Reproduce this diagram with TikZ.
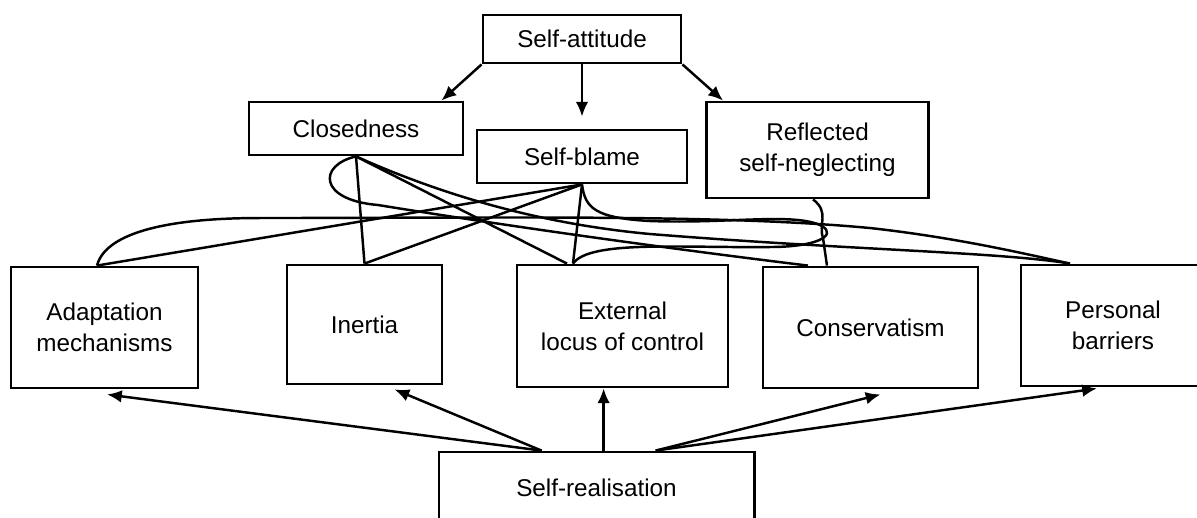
\documentclass[tikz,border=0pt]{standalone}
\usepackage{fontspec}
\setmainfont{Liberation Sans}
\usetikzlibrary{arrows.meta, calc}
\tikzset{>={Latex[length=4.2pt, width=3.6pt]}}
\tikzset{box/.style = {draw, line width = 0.8pt, inner sep = 0pt, align = center, font = \fontsize{6.9}{8.9}\selectfont}}

\begin{document}
\begin{tikzpicture}[x = 0.01cm, y = -0.01cm, line width = 0.7pt]
\useasboundingbox (0,0) rectangle (1197,517);
\clip (0,0) rectangle (1197,517);

\node[box, minimum width = 1.98cm, minimum height = 0.48cm] (attitude) at (582,39) {Self-attitude};
\node[box, minimum width = 2.14cm, minimum height = 0.53cm] (closed) at (356,128.5) {Closedness};
\node[box, minimum width = 2.10cm, minimum height = 0.53cm] (blame) at (582,156.5) {Self-blame};
\node[box, minimum width = 2.22cm, minimum height = 0.96cm] (reflect) at (817.5,150) {Reflected\\self-neglecting};

\node[box, minimum width = 1.87cm, minimum height = 1.21cm] (adapt) at (104.5,327.5) {Adaptation\\mechanisms};
\node[box, minimum width = 1.55cm, minimum height = 1.19cm] (inertia) at (364.5,324.5) {Inertia};
\node[box, minimum width = 2.11cm, minimum height = 1.22cm] (extern) at (622.5,326) {External\\locus of control};
\node[box, minimum width = 2.15cm, minimum height = 1.21cm] (conserv) at (870.5,327.5) {Conservatism};
\node[box, minimum width = 1.84cm, minimum height = 1.21cm] (barriers) at (1113,325.5) {Personal\\barriers};

\node[box, minimum width = 3.15cm, minimum height = 0.72cm] (realise) at (596.5,488) {Self-realisation};

\draw[->] (attitude.south west) -- ([xshift=-0.23cm]closed.north east);
\draw[->] (attitude.south) -- ([yshift=0.12cm]blame.north);
\draw[->] (attitude.south east) -- ([xshift=0.18cm]reflect.north west);

\coordinate (r1) at ([xshift=1.04cm]realise.north west);
\coordinate (r2) at ([xshift=1.66cm]realise.north west);
\coordinate (r3) at ([xshift=2.18cm]realise.north west);
\draw[->] (r1) -- ([xshift=0.025cm, yshift=-0.05cm]adapt.south);
\draw[->] (r1) -- ([xshift=0.3cm, yshift=-0.04cm]inertia.south);
\draw[->] (r2) -- (r2 |- extern.south);
\draw[->] (r3) -- ([xshift=0.1cm, yshift=-0.05cm]conserv.south);
\draw[->] (r3) -- ([xshift=-0.16cm, yshift=-0.01cm]barriers.south);

\coordinate (aT) at ([xshift=-0.075cm]adapt.north);
\coordinate (eT1) at ([xshift=-0.555cm]extern.north);
\coordinate (eT2) at ([xshift=-0.495cm]extern.north);
\coordinate (cT1) at ([xshift=-0.625cm]conserv.north);
\coordinate (cT2) at ([xshift=-0.435cm]conserv.north);
\coordinate (bT) at ([xshift=-0.43cm]barriers.north);

\draw (aT) -- (blame.south);
\draw (aT) .. controls (105,235) and (160,218) .. (260,218) .. controls (500,218) and (720,214) .. (870,228) .. controls (960,238) and (1030,255) .. (bT);
\draw (closed.south) -- (inertia.north);
\draw (closed.south) -- (eT1);
\draw (closed.south) .. controls (318,165) and (318,200) .. (378,205) .. controls (520,228) and (680,250) .. (cT1);
\draw (closed.south) .. controls (420,185) and (520,222) .. (650,234) .. controls (850,250) and (1000,252) .. (bT);
\draw (blame.south) -- (inertia.north);
\draw (blame.south) -- (eT2);
\draw ([xshift=-0.045cm]reflect.south) .. controls (830,212) and (818,225) .. (823,238) -- (cT2);
\draw (blame.south) .. controls (585,208) and (595,218) .. (650,221) .. controls (730,224) and (795,212) .. (822,226) .. controls (838,236) and (815,247) .. (770,247) .. controls (680,248) and (590,240) .. (eT2);
\end{tikzpicture}
\end{document}
